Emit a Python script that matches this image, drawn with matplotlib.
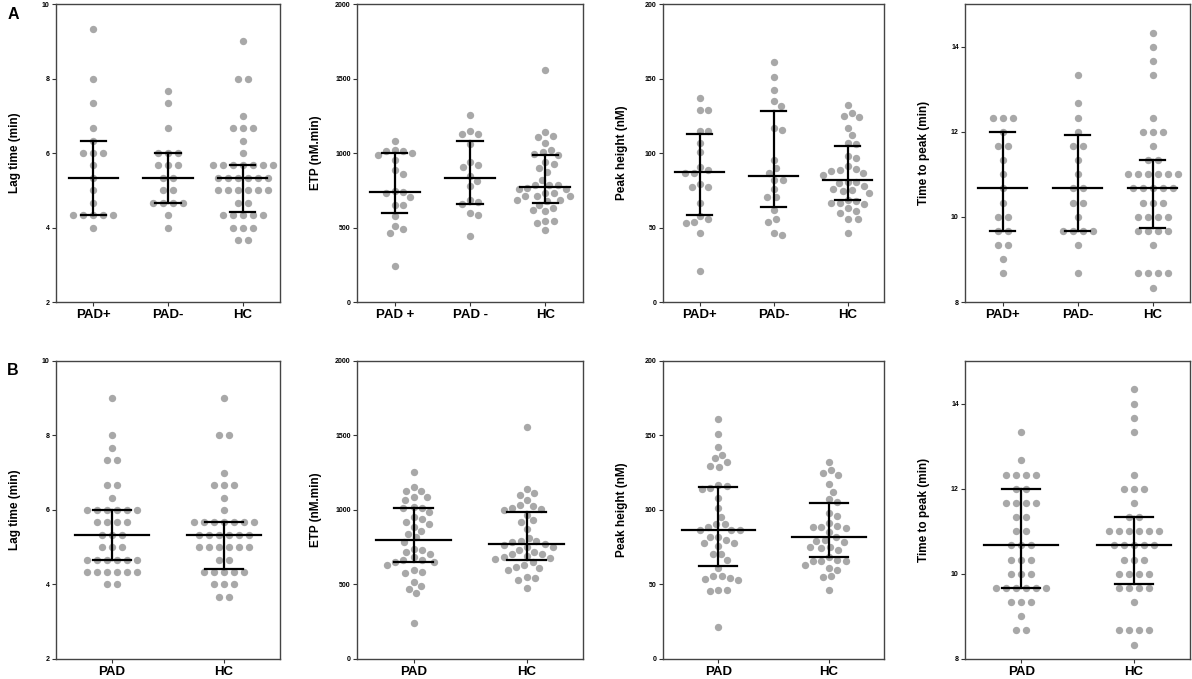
import numpy as np
import matplotlib
matplotlib.use("Agg")
import matplotlib.pyplot as plt

plt.rcParams['font.family'] = ['Liberation Sans', 'DejaVu Sans']

## values

# lag time (min), row A
lagA_pad_pos = [9.33, 8.0, 7.33, 6.67, 6.33, 6.0, 6.0, 6.0, 5.67, 5.33, 5.0, 4.67,
                4.33, 4.33, 4.33, 4.33, 4.33, 4.0]
lagA_pad_neg = [7.67, 7.33, 6.67, 6.0, 6.0, 6.0, 5.67, 5.67, 5.67, 5.33, 5.33,
                5.0, 5.0, 4.67, 4.67, 4.67, 4.67, 4.33, 4.0]
lag_hc = [9.0, 8.0, 8.0, 7.0, 6.67, 6.67, 6.67, 6.33, 6.0,
          5.67, 5.67, 5.67, 5.67, 5.67, 5.67, 5.67,
          5.33, 5.33, 5.33, 5.33, 5.33, 5.33,
          5.0, 5.0, 5.0, 5.0, 5.0, 5.0, 4.67, 4.67,
          4.33, 4.33, 4.33, 4.33, 4.33, 4.0, 4.0, 4.0, 3.67, 3.67]
# lag time, row B
lagB_pad = [9.0, 8.0, 7.67, 7.33, 7.33, 6.67, 6.67, 6.33, 6.0, 6.0, 6.0, 6.0, 6.0, 6.0,
            5.67, 5.67, 5.67, 5.67, 5.33, 5.33, 5.33, 5.0, 5.0, 5.0,
            4.67, 4.67, 4.67, 4.67, 4.67, 4.67, 4.33, 4.33, 4.33, 4.33, 4.33, 4.33,
            4.0, 4.0]

# ETP (nM.min)
etpA_pad_pos = [1083, 1011, 1000, 1022, 989, 1011, 951, 884, 862, 743, 739, 705, 732,
                654, 650, 576, 513, 491, 464, 241]
etpA_pad_neg = [1257, 1127, 1150, 1127, 1063, 937, 922, 904, 810, 781, 844, 670, 688,
                661, 598, 587, 442]
etpA_hc = [1558, 1138, 1107, 1111, 1067, 1022, 989, 1004, 996, 940, 926, 900, 871, 821,
           788, 788, 788, 761, 766, 759, 732, 710, 710, 710, 732, 676, 688, 688, 609,
           616, 632, 654, 542, 542, 527, 480]
etpB_pad = [1257, 1127, 1152, 1127, 1085, 1085, 1067, 1022, 1011, 1016, 984, 940, 955,
            922, 884, 904, 862, 839, 817, 788, 732, 716, 741, 705, 683, 661, 654, 654,
            665, 632, 598, 580, 587, 516, 493, 469, 442, 241]
etpB_hc = [1554, 1138, 1101, 1111, 1067, 1027, 1011, 1033, 1004, 1000, 933, 967, 922,
           871, 815, 792, 783, 792, 766, 754, 754, 772, 732, 721, 705, 688, 705, 672,
           676, 683, 654, 609, 616, 632, 598, 547, 527, 542, 475]

# peak height (nM)
pkA_pad_pos = [137, 129, 129, 114.5, 114.5, 107, 101, 90.6, 88.4, 86.6, 86.6, 79.5, 77.2,
               77.2, 66.5, 58, 55.8, 52.7, 53.6, 46, 20.8]
pkA_pad_neg = [161, 151, 142, 134.6, 131.7, 115.6, 117, 95.5, 90, 86.6, 82, 82, 75.9,
               70.3, 70.3, 61.6, 56, 54, 45.3, 46.4]
pkA_hc = [132, 125, 124, 127, 117, 112, 107, 106, 97.8, 96.7, 91, 86.6, 88.8, 85.5, 88,
          89.3, 80.4, 80, 80.4, 77.7, 73, 75.4, 74.3, 76, 68.8, 67.6, 66.5, 66, 66.5,
          61, 63, 59.8, 55.4, 55.4, 46]
pkB_pad = [161, 151, 142, 137, 132, 134.6, 128.6, 129.7, 117, 114, 114.5, 116, 107.8,
           101, 95.5, 90.4, 86.6, 86.6, 86.6, 88.4, 90.6, 82, 82, 77.7, 75.9, 77.7, 80,
           70.3, 70.5, 66.5, 61, 55.8, 54.2, 52.7, 53.6, 55.8, 46, 45.3, 46.4, 21.2]
pkB_hc = [132.4, 124.6, 123.4, 126.8, 117.4, 112.3, 107.4, 105.6, 97.8, 96.2, 91, 88.4,
          87.7, 85, 88.4, 89.5, 82, 79.2, 78.8, 80, 75, 73.2, 74.3, 75.4, 68.3, 66.5,
          66, 66, 66, 61, 63, 59.8, 55.4, 55, 46]

# time to peak (min)
ttpA_pad_pos = [12.33, 12.33, 12.33, 12.0, 11.67, 11.67, 11.33, 11.0, 10.67, 10.33,
                10.0, 10.0, 9.67, 9.67, 9.33, 9.33, 9.0, 8.67]
ttpA_pad_neg = [13.33, 12.67, 12.33, 12.0, 11.67, 11.67, 11.33, 11.0, 10.67, 10.67,
                10.33, 10.33, 10.0, 9.67, 9.67, 9.67, 9.67, 9.33, 8.67]
ttp_hc = [14.33, 14.0, 13.67, 13.33, 12.33, 12.0, 12.0, 12.0, 11.67, 11.33, 11.33,
          11.0, 11.0, 11.0, 11.0, 11.0, 11.0, 10.67, 10.67, 10.67, 10.67, 10.67,
          10.33, 10.33, 10.33, 10.0, 10.0, 10.0, 10.0, 9.67, 9.67, 9.67, 9.67,
          9.33, 8.67, 8.67, 8.67, 8.67, 8.33]
ttpB_pad = [13.33, 12.67, 12.33, 12.33, 12.33, 12.33, 12.0, 12.0, 11.67, 11.67, 11.67,
            11.67, 11.33, 11.33, 11.0, 11.0, 10.67, 10.67, 10.67, 10.33, 10.33, 10.33,
            10.0, 10.0, 10.0, 9.67, 9.67, 9.67, 9.67, 9.67, 9.67, 9.33, 9.33, 9.33,
            9.0, 8.67, 8.67]

# centre line and error bar ends (low, high) per group
lagA_mid = [5.33, 5.33, 5.33]; lagA_lo = [4.33, 4.67, 4.42]; lagA_hi = [6.33, 6.0, 5.67]
etpA_mid = [739, 830, 772];    etpA_lo = [600, 660, 663];    etpA_hi = [1000, 1083, 988]
pkA_mid = [87, 84.8, 82];      pkA_lo = [58.5, 63.6, 68.8];  pkA_hi = [113, 128.5, 105]
ttpA_mid = [10.67, 10.67, 10.67]; ttpA_lo = [9.67, 9.67, 9.75]; ttpA_hi = [12.0, 11.92, 11.33]
lagB_mid = [5.33, 5.33];  lagB_lo = [4.67, 4.42];  lagB_hi = [6.0, 5.67]
etpB_mid = [797, 772];    etpB_lo = [652, 663];    etpB_hi = [1011, 986]
pkB_mid = [86.6, 82];     pkB_lo = [62.5, 68.6];   pkB_hi = [115.4, 105]
ttpB_mid = [10.67, 10.67]; ttpB_lo = [9.67, 9.75]; ttpB_hi = [12.0, 11.33]

groupsA = ['PAD+', 'PAD-', 'HC']
groupsA_etp = ['PAD +', 'PAD -', 'HC']
groupsB = ['PAD', 'HC']

ylabels = ['Lag time (min)', 'ETP (nM.min)', 'Peak height (nM)', 'Time to peak (min)']
ylims = [(2, 10), (0, 2000), (0, 200), (8, 15)]
yticks = [[2, 4, 6, 8, 10], [0, 500, 1000, 1500, 2000], [0, 50, 100, 150, 200], [8, 10, 12, 14]]

panels = [
    (0, 0, groupsA, [lagA_pad_pos, lagA_pad_neg, lag_hc], lagA_mid, lagA_lo, lagA_hi, True),
    (0, 1, groupsA_etp, [etpA_pad_pos, etpA_pad_neg, etpA_hc], etpA_mid, etpA_lo, etpA_hi, False),
    (0, 2, groupsA, [pkA_pad_pos, pkA_pad_neg, pkA_hc], pkA_mid, pkA_lo, pkA_hi, False),
    (0, 3, groupsA, [ttpA_pad_pos, ttpA_pad_neg, ttp_hc], ttpA_mid, ttpA_lo, ttpA_hi, True),
    (1, 0, groupsB, [lagB_pad, lag_hc], lagB_mid, lagB_lo, lagB_hi, True),
    (1, 1, groupsB, [etpB_pad, etpB_hc], etpB_mid, etpB_lo, etpB_hi, False),
    (1, 2, groupsB, [pkB_pad, pkB_hc], pkB_mid, pkB_lo, pkB_hi, False),
    (1, 3, groupsB, [ttpB_pad, ttp_hc], ttpB_mid, ttpB_lo, ttpB_hi, True),
]

lefts = [0.047, 0.2995, 0.556, 0.8096]
widths = [0.188, 0.1896, 0.186, 0.1888]
bottoms = [0.5552, 0.0295]
height = 0.4389

ROW_GAP = 10.0   # dot spacing in a row of equal values (pixels)
SWARM_GAP = 8.6  # minimum dot distance for continuous values (pixels)


def swarm_x(ax, xc, vals, rows):
    # spread points sideways (pixel space) so they do not overlap
    vals = np.asarray(vals, float)
    pts = ax.transData.transform(np.column_stack([np.full(len(vals), xc), vals]))
    ypx = pts[:, 1]
    off = np.zeros(len(vals))
    if rows:
        keys = np.round(vals, 2)
        for k in np.unique(keys):
            idx = np.where(keys == k)[0]
            n = len(idx)
            off[idx] = (np.arange(n) - (n - 1) / 2.0) * ROW_GAP
    else:
        d = SWARM_GAP
        placed = []
        for i in np.argsort(-vals, kind='stable'):
            cands = [0.0]
            for j in placed:
                dy = ypx[i] - ypx[j]
                if abs(dy) < d:
                    dx = np.sqrt(d ** 2 - dy ** 2)
                    cands += [off[j] + dx, off[j] - dx]
            cands.sort(key=abs)
            for c in cands:
                if all((c - off[j]) ** 2 + (ypx[i] - ypx[j]) ** 2 >= d ** 2 - 1e-6 for j in placed):
                    off[i] = c
                    break
            placed.append(i)
    back = ax.transData.inverted().transform(np.column_stack([pts[:, 0] + off, ypx]))
    return back[:, 0]


fig = plt.figure(figsize=(11.92, 6.79), dpi=100)

for r, c, names, data, mid, lo, hi, rows in panels:
    ax = fig.add_axes([lefts[c], bottoms[r], widths[c], height])
    n = len(names)
    ax.set_xlim(0.5, n + 0.5)
    ax.set_ylim(*ylims[c])
    for k in range(n):
        xs = swarm_x(ax, k + 1, data[k], rows)
        ax.scatter(xs, data[k], s=28, color='#a8a8a8', linewidths=0, zorder=2)
        ax.plot([k + 1 - 0.33, k + 1 + 0.33], [mid[k], mid[k]], color='black', lw=1.6, zorder=3)
        ax.plot([k + 1, k + 1], [lo[k], hi[k]], color='black', lw=1.6, zorder=3)
        for e in (lo[k], hi[k]):
            ax.plot([k + 1 - 0.17, k + 1 + 0.17], [e, e], color='black', lw=1.6, zorder=3)
    ax.set_xticks(range(1, n + 1))
    ax.set_xticklabels(names, fontsize=9.5, fontweight='bold')
    ax.set_yticks(yticks[c])
    ax.set_yticklabels([str(t) for t in yticks[c]], fontsize=5, fontweight='bold')
    ax.tick_params(axis='both', direction='out', length=3, width=0.8, color='#333333')
    ax.tick_params(axis='x', pad=2)
    ax.tick_params(axis='y', pad=1.5)
    for sp in ax.spines.values():
        sp.set_color('#444444')
        sp.set_linewidth(1.0)
    ax.set_ylabel(ylabels[c], fontsize=8.5, fontweight='bold')
    ax.yaxis.set_label_coords(-0.155, 0.5)

fig.text(0.006, 0.99, 'A', fontsize=11.5, fontweight='bold', va='top', ha='left')
fig.text(0.006, 0.466, 'B', fontsize=11.5, fontweight='bold', va='top', ha='left')

fig.savefig('out.png', dpi=100)
